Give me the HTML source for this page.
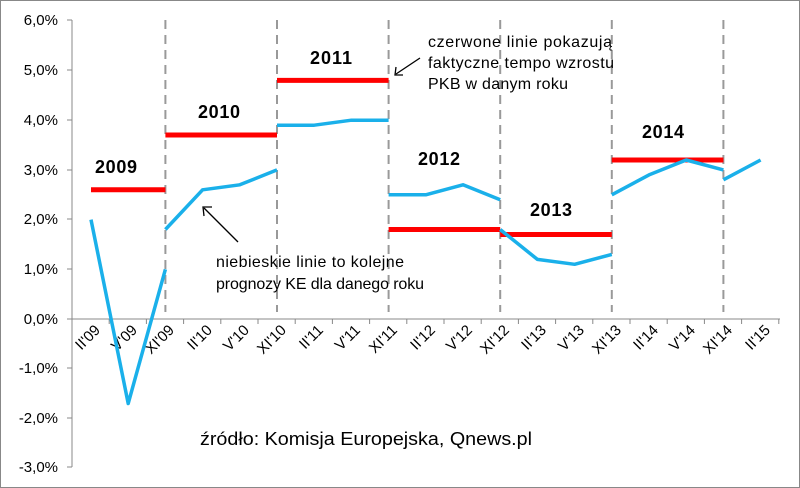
<!DOCTYPE html>
<html><head><meta charset="utf-8"><style>body{margin:0;background:#fff}svg{display:block}</style></head><body>
<svg width="800" height="488" viewBox="0 0 800 488" xmlns="http://www.w3.org/2000/svg" font-family="Liberation Sans, sans-serif">
<rect x="0.5" y="0.5" width="799" height="487" fill="#fff" stroke="#888"/>
<g stroke="#888" stroke-width="1">
<line x1="72" y1="20" x2="72" y2="467"/>
<line x1="72" y1="319" x2="780" y2="319"/>
<line x1="67" y1="20" x2="72" y2="20"/><line x1="67" y1="70" x2="72" y2="70"/><line x1="67" y1="120" x2="72" y2="120"/><line x1="67" y1="170" x2="72" y2="170"/><line x1="67" y1="219" x2="72" y2="219"/><line x1="67" y1="269" x2="72" y2="269"/><line x1="67" y1="319" x2="72" y2="319"/><line x1="67" y1="368" x2="72" y2="368"/><line x1="67" y1="418" x2="72" y2="418"/><line x1="67" y1="467" x2="72" y2="467"/>
<line x1="109.2" y1="319" x2="109.2" y2="324"/><line x1="146.4" y1="319" x2="146.4" y2="324"/><line x1="183.6" y1="319" x2="183.6" y2="324"/><line x1="220.8" y1="319" x2="220.8" y2="324"/><line x1="258" y1="319" x2="258" y2="324"/><line x1="295.2" y1="319" x2="295.2" y2="324"/><line x1="332.4" y1="319" x2="332.4" y2="324"/><line x1="369.6" y1="319" x2="369.6" y2="324"/><line x1="406.8" y1="319" x2="406.8" y2="324"/><line x1="444" y1="319" x2="444" y2="324"/><line x1="481.2" y1="319" x2="481.2" y2="324"/><line x1="518.4" y1="319" x2="518.4" y2="324"/><line x1="555.6" y1="319" x2="555.6" y2="324"/><line x1="592.8" y1="319" x2="592.8" y2="324"/><line x1="630" y1="319" x2="630" y2="324"/><line x1="667.2" y1="319" x2="667.2" y2="324"/><line x1="704.4" y1="319" x2="704.4" y2="324"/><line x1="741.6" y1="319" x2="741.6" y2="324"/><line x1="778.8" y1="319" x2="778.8" y2="324"/>
</g>
<g stroke="#999" stroke-width="2" stroke-dasharray="9,6">
<line x1="165.4" y1="20" x2="165.4" y2="312"/><line x1="277" y1="20" x2="277" y2="312"/><line x1="388.6" y1="20" x2="388.6" y2="312"/><line x1="500.2" y1="20" x2="500.2" y2="312"/><line x1="611.8" y1="20" x2="611.8" y2="312"/><line x1="723.4" y1="20" x2="723.4" y2="312"/>
</g>
<g font-size="15" fill="#000" text-anchor="end">
<text x="58" y="25">6,0%</text><text x="58" y="75">5,0%</text><text x="58" y="125">4,0%</text><text x="58" y="175">3,0%</text><text x="58" y="224">2,0%</text><text x="58" y="274">1,0%</text><text x="58" y="324">0,0%</text><text x="58" y="373">-1,0%</text><text x="58" y="423">-2,0%</text><text x="58" y="472">-3,0%</text>
</g>
<g font-size="15" fill="#000" text-anchor="end">
<text transform="translate(101,331) rotate(-45)">II'09</text>
<text transform="translate(138,331) rotate(-45)">V'09</text>
<text transform="translate(175,331) rotate(-45)">XI'09</text>
<text transform="translate(213,331) rotate(-45)">II'10</text>
<text transform="translate(250,331) rotate(-45)">V'10</text>
<text transform="translate(287,331) rotate(-45)">XI'10</text>
<text transform="translate(324,331) rotate(-45)">II'11</text>
<text transform="translate(361,331) rotate(-45)">V'11</text>
<text transform="translate(398,331) rotate(-45)">XI'11</text>
<text transform="translate(436,331) rotate(-45)">II'12</text>
<text transform="translate(473,331) rotate(-45)">V'12</text>
<text transform="translate(510,331) rotate(-45)">XI'12</text>
<text transform="translate(547,331) rotate(-45)">II'13</text>
<text transform="translate(585,331) rotate(-45)">V'13</text>
<text transform="translate(622,331) rotate(-45)">XI'13</text>
<text transform="translate(659,331) rotate(-45)">II'14</text>
<text transform="translate(696,331) rotate(-45)">V'14</text>
<text transform="translate(733,331) rotate(-45)">XI'14</text>
<text transform="translate(771,331) rotate(-45)">II'15</text>
</g>
<g stroke="#f00" stroke-width="5">
<line x1="91" y1="189.8" x2="165.4" y2="189.8"/>
<line x1="165.4" y1="135" x2="277" y2="135"/>
<line x1="277" y1="80.4" x2="388.6" y2="80.4"/>
<line x1="388.6" y1="229.5" x2="500.2" y2="229.5"/>
<line x1="500.2" y1="234.5" x2="611.8" y2="234.5"/>
<line x1="611.8" y1="160" x2="723.4" y2="160"/>
</g>
<g stroke="#1ab0ea" stroke-width="3.5" fill="none" stroke-linejoin="round">
<polyline points="91,219.6 128.2,403.5 165.4,269.3"/>
<polyline points="165.4,229.5 202.6,189.8 239.8,184.8 277,169.9"/>
<polyline points="277,125.2 314.2,125.2 351.4,120.2 388.6,120.2"/>
<polyline points="388.6,194.8 425.8,194.8 463,184.8 500.2,199.7"/>
<polyline points="500.2,229.5 537.4,259.4 574.6,264.3 611.8,254.4"/>
<polyline points="611.8,194.8 649,174.9 686.2,160 723.4,169.9"/>
<polyline points="723.4,179.8 760.6,160"/>
</g>
<g font-size="18" font-weight="bold" fill="#000">
<text x="95" y="173" textLength="42">2009</text><text x="198" y="118" textLength="42">2010</text><text x="310" y="64" textLength="42">2011</text><text x="418" y="165" textLength="42">2012</text><text x="530" y="216" textLength="42">2013</text><text x="642" y="138" textLength="42">2014</text>
</g>
<g font-size="16" fill="#000">
<text x="428" y="47" textLength="184">czerwone linie pokazują</text>
<text x="428" y="68" textLength="186">faktyczne tempo wzrostu</text>
<text x="428" y="89" textLength="140">PKB w danym roku</text>
<text x="216" y="267" textLength="188">niebieskie linie to kolejne</text>
<text x="216" y="289" textLength="208">prognozy KE dla danego roku</text>
<text x="200" y="445" font-size="18" textLength="332" lengthAdjust="spacingAndGlyphs">źródło: Komisja Europejska, Qnews.pl</text>
</g>
<g stroke="#000" stroke-width="1.3" fill="none">
<line x1="420" y1="58" x2="396" y2="74"/><polyline points="396,67 395,75 403,75"/>
<line x1="238" y1="242" x2="204" y2="208"/><polyline points="204,216 203,207 212,207"/>
</g>
</svg>
</body></html>
